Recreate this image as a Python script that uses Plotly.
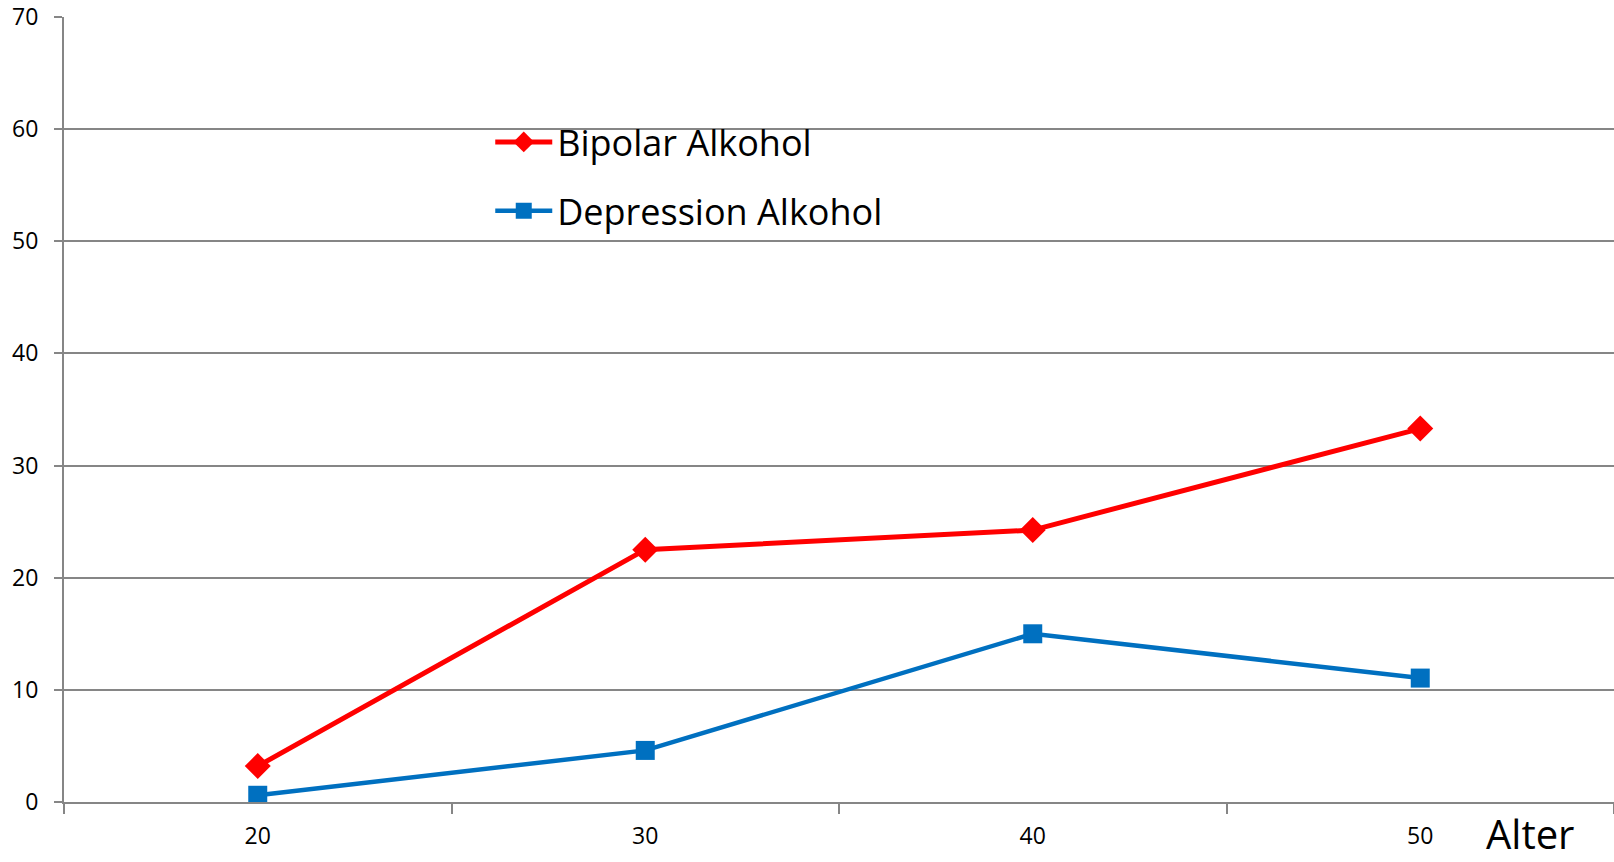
import plotly.graph_objects as go

categories = ["20", "30", "40", "50"]
bipolar = [3.2, 22.5, 24.25, 33.3]
depression = [0.6, 4.6, 15.0, 11.05]
y_ticks = [0, 10, 20, 30, 40, 50, 60, 70]

fig = go.Figure()
fig.add_trace(go.Scatter(
    x=categories, y=bipolar, name="Bipolar Alkohol", mode="lines+markers",
    legendgroup="a",
    line=dict(color="#FF0000", width=5),
    marker=dict(symbol="diamond", size=20, color="#FF0000"),
))
fig.add_trace(go.Scatter(
    x=categories, y=depression, name="Depression Alkohol", mode="lines+markers",
    legendgroup="b",
    line=dict(color="#0070C0", width=4.5),
    marker=dict(symbol="square", size=19, color="#0070C0"),
))

fig.update_layout(
    width=1614, height=862,
    margin=dict(l=64, r=0, t=17, b=60),
    paper_bgcolor="white", plot_bgcolor="white",
    font=dict(family="Open Sans", color="black", size=21),
    showlegend=True,
    legend=dict(
        x=0.275, y=0.879, xanchor="left", yanchor="top",
        font=dict(size=36), bgcolor="rgba(0,0,0,0)",
        itemwidth=57, tracegroupgap=19,
    ),
    xaxis=dict(
        type="category", categoryorder="array", categoryarray=categories,
        range=[-0.5, 3.5], tickson="boundaries", ticks="outside", ticklen=10,
        tickcolor="#868686", tickwidth=1.5,
        showline=True, linecolor="#868686", linewidth=2,
        showgrid=False, tickfont=dict(size=23), ticklabelstandoff=12,
    ),
    yaxis=dict(
        range=[0, 70], tickvals=y_ticks, ticks="outside", ticklen=8,
        tickcolor="#868686", tickwidth=1.5,
        showline=True, linecolor="#868686", linewidth=2,
        showgrid=True, gridcolor="#868686", gridwidth=1.5,
        zeroline=False, tickfont=dict(size=23), ticklabelstandoff=11,
    ),
)

fig.add_annotation(
    text="Alter", xref="paper", yref="paper", x=0.917, y=-0.076,
    xanchor="left", yanchor="bottom", showarrow=False, borderpad=0,
    font=dict(size=40, color="black", family="Open Sans"),
)

fig.write_html("out.html")
